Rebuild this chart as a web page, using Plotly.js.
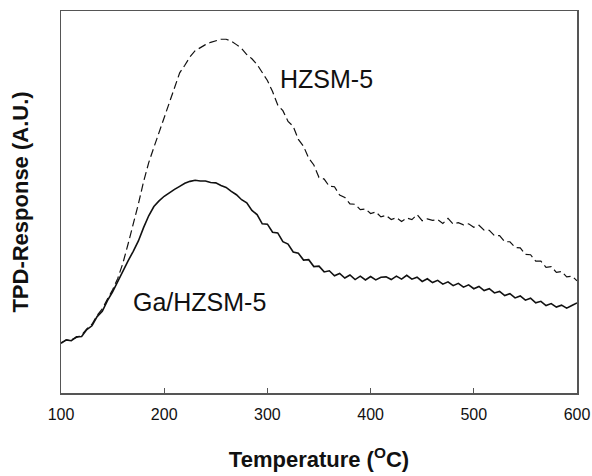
<!DOCTYPE html>
<html>
<head>
<meta charset="utf-8">
<script src="https://cdn.plot.ly/plotly-3.0.1.min.js"></script>
<style>html,body{margin:0;padding:0;background:#fff;}#chart{width:592px;height:476px;}</style>
</head>
<body>
<div id="chart"></div>
<script>
// Temperature (°C) sampled every 5 degrees
var temperature = [100,105,110,115,120,125,130,135,140,145,150,155,160,165,170,175,180,185,190,195,
  200,205,210,215,220,225,230,235,240,245,250,255,260,265,270,275,280,285,290,295,
  300,305,310,315,320,325,330,335,340,345,350,355,360,365,370,375,380,385,390,395,
  400,405,410,415,420,425,430,435,440,445,450,455,460,465,470,475,480,485,490,495,
  500,505,510,515,520,525,530,535,540,545,550,555,560,565,570,575,580,585,590,595,600];

// HZSM-5 TPD response (arbitrary units)
var hzsm5 = [13.2,13.8,13.9,14.6,15.2,16.8,18.0,20.3,22.0,24.6,27.0,30.0,34.0,39.0,44.0,49.5,55.3,60.3,64.3,68.2,
  71.8,75.6,79.8,83.8,85.8,88.0,89.6,90.5,91.2,91.8,92.3,92.6,92.6,92.1,91.2,90.2,88.6,87.5,86.0,83.8,
  81.8,78.9,75.4,73.9,71.1,69.8,66.4,64.6,61.5,59.7,56.4,56.0,54.1,54.0,51.8,51.2,49.5,49.4,48.0,48.2,
  47.0,47.4,46.1,46.5,45.4,45.9,44.9,45.8,45.4,46.7,45.1,45.6,45.2,45.4,44.4,45.7,44.2,44.6,44.0,44.3,
  43.4,43.9,42.6,42.6,41.2,41.2,39.6,39.6,38.1,38.0,36.3,36.2,34.5,34.5,32.9,33.1,31.6,31.8,30.4,30.6,29.4];

// Ga/HZSM-5 TPD response (arbitrary units)
var gaHzsm5 = [13.0,13.9,13.7,14.7,14.8,16.6,17.6,20.0,21.4,24.2,26.5,29.3,32.0,34.6,37.1,39.8,43.3,46.4,48.8,50.3,
  51.5,52.5,53.3,54.1,54.9,55.4,55.7,55.5,55.5,55.1,55.0,54.3,53.8,52.8,51.9,50.6,49.8,47.8,46.7,44.3,
  44.2,42.1,41.9,39.6,39.0,36.9,36.6,34.8,34.9,33.1,33.2,31.7,32.0,30.7,31.3,30.1,30.9,29.7,30.6,29.6,
  30.5,29.6,30.3,30.4,29.7,30.6,29.8,30.8,29.8,30.3,29.2,29.9,28.9,29.5,28.5,29.1,28.1,28.7,27.7,28.3,
  27.3,27.9,26.8,27.3,26.2,26.6,25.5,26.0,24.9,25.4,24.3,24.8,23.6,24.0,22.9,23.4,22.5,23.0,22.2,22.9,23.6];

var xTicks = [100,200,300,400,500,600];
var seriesNames = ['HZSM-5','Ga/HZSM-5'];

var traces = [
  {x: temperature, y: hzsm5, type: 'scatter', mode: 'lines', name: seriesNames[0],
   line: {color: '#111', width: 1.2, dash: '8px,4px'}},
  {x: temperature, y: gaHzsm5, type: 'scatter', mode: 'lines', name: seriesNames[1],
   line: {color: '#111', width: 1.6}}
];

var font = 'Liberation Sans, Arial, sans-serif';
var layout = {
  width: 592, height: 476,
  margin: {l: 61, r: 15, t: 11, b: 83},
  paper_bgcolor: '#fff', plot_bgcolor: '#fff',
  showlegend: false,
  font: {family: font, color: '#111'},
  xaxis: {
    range: [100, 600], tickvals: xTicks, ticktext: xTicks.map(String),
    ticks: 'inside', ticklen: 5, tickwidth: 1, tickcolor: '#555',
    showline: true, linecolor: '#555', linewidth: 1.5, mirror: true,
    showgrid: false, zeroline: false,
    tickfont: {family: font, size: 16, color: '#111'},
    ticklabelstandoff: 6,
    title: {text: 'Temperature (<sup>O</sup>C)', font: {family: font, size: 22, color: '#111', weight: 'bold'}, standoff: 30}
  },
  yaxis: {
    range: [0, 100], showticklabels: false, ticks: '',
    showline: true, linecolor: '#555', linewidth: 1.5, mirror: true,
    showgrid: false, zeroline: false,
    title: {text: 'TPD-Response (A.U.)', font: {family: font, size: 22, color: '#111', weight: 'bold'}, standoff: 25}
  },
  annotations: [
    {x: 310, y: 82.2, xref: 'x', yref: 'y', text: seriesNames[0], showarrow: false,
     xanchor: 'left', yanchor: 'middle', font: {family: font, size: 25, color: '#111'}},
    {x: 168, y: 23.8, xref: 'x', yref: 'y', text: seriesNames[1], showarrow: false,
     xanchor: 'left', yanchor: 'middle', font: {family: font, size: 25, color: '#111'}}
  ]
};

Plotly.newPlot('chart', traces, layout, {staticPlot: true, displayModeBar: false});
</script>
</body>
</html>
